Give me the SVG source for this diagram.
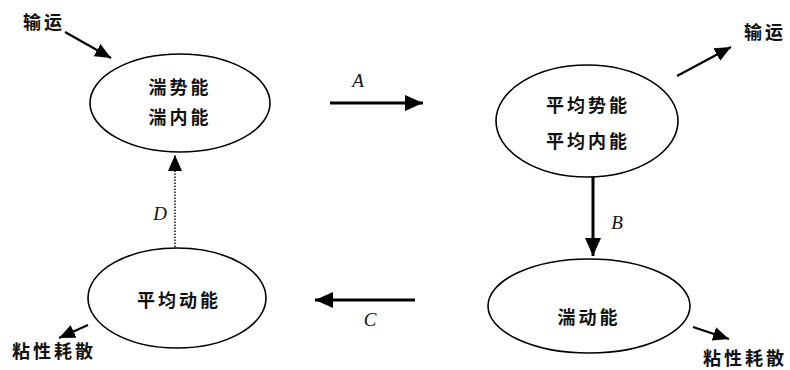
<svg xmlns="http://www.w3.org/2000/svg" width="790" height="370" viewBox="0 0 790 370">
<style>
.node ellipse{fill:#fff;stroke:#000;stroke-width:1.6}
.cn{font-family:"Noto Sans CJK SC","Noto Sans",sans-serif;font-size:18px;font-weight:bold;fill:#111;letter-spacing:3px;text-anchor:middle;dominant-baseline:central}
.lab{font-family:"Liberation Serif",serif;font-style:italic;font-size:19px;fill:#111;text-anchor:middle;dominant-baseline:central}
.thick{stroke:#000;stroke-width:3;fill:none}
.thin{stroke:#000;stroke-width:2.2;fill:none}
.dot{stroke:#000;stroke-width:1.4;stroke-dasharray:1.5 1.5;fill:none}
</style>
<defs>
<marker id="ah" markerUnits="userSpaceOnUse" markerWidth="20" markerHeight="16" refX="18" refY="8" orient="auto">
<path d="M0,0 L18,8 L0,16 Z" fill="#000"/>
</marker>
<marker id="ahs" markerUnits="userSpaceOnUse" markerWidth="18" markerHeight="14" refX="16" refY="7" orient="auto">
<path d="M0,0 L16,7 L0,14 Z" fill="#000"/>
</marker>
</defs>
<g id="connectors">
<line class="thin" x1="65" y1="32" x2="111" y2="58" marker-end="url(#ahs)"/>
<line class="thick" x1="330" y1="103" x2="423" y2="103" marker-end="url(#ah)"/>
<line class="thin" x1="677" y1="76" x2="731" y2="47" marker-end="url(#ahs)"/>
<line class="thick" x1="593" y1="177" x2="593" y2="256" marker-end="url(#ah)"/>
<line class="thick" x1="415" y1="300" x2="315" y2="300" marker-end="url(#ah)"/>
<line class="dot" x1="175" y1="247" x2="175" y2="155" marker-end="url(#ahs)"/>
<line class="thin" x1="88" y1="325" x2="59" y2="338" marker-end="url(#ahs)"/>
<line class="thin" x1="693" y1="327" x2="729" y2="339" marker-end="url(#ahs)"/>
<text class="lab" x="358" y="80">A</text>
<text class="lab" x="617" y="222">B</text>
<text class="lab" x="370" y="319">C</text>
<text class="lab" x="160" y="213">D</text>
</g>
<g id="transport-in"><text class="cn" x="44" y="21">输运</text></g>
<g id="turb-pot"><ellipse class="" cx="180" cy="103" rx="90" ry="49" fill="#fff" stroke="#000" stroke-width="1.6"/>
<text class="cn" x="180" y="86">湍势能</text><text class="cn" x="180" y="116">湍内能</text></g>
<g id="mean-pot" class="node"><ellipse cx="587" cy="121" rx="91" ry="56"/>
<text class="cn" x="588" y="104">平均势能</text><text class="cn" x="588" y="140">平均内能</text></g>
<g id="transport-out"><text class="cn" x="765" y="31">输运</text></g>
<g id="turb-kin" class="node"><ellipse cx="589" cy="306" rx="101" ry="47"/>
<text class="cn" x="589" y="316">湍动能</text></g>
<g id="mean-kin" class="node"><ellipse cx="177" cy="298" rx="89" ry="50"/>
<text class="cn" x="179" y="299">平均动能</text></g>
<g id="diss-left"><text class="cn" x="54" y="350">粘性耗散</text></g>
<g id="diss-right"><text class="cn" x="745" y="357">粘性耗散</text></g>
</svg>
